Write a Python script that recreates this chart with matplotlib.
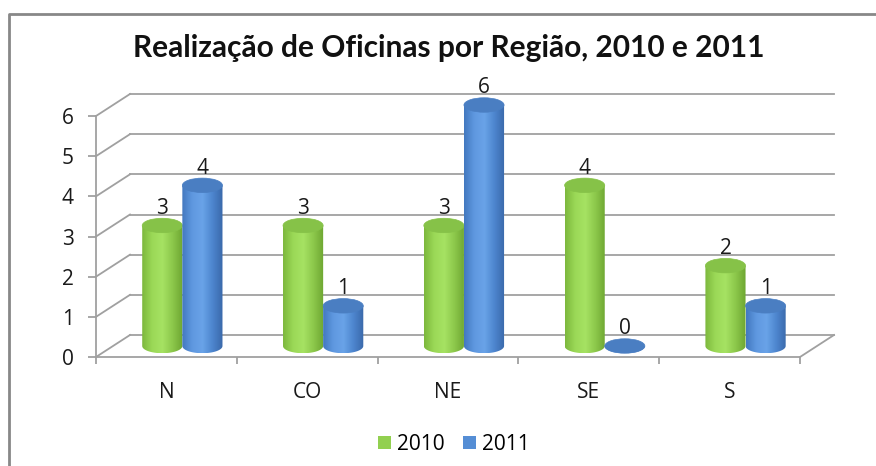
import numpy as np
import matplotlib.pyplot as plt
from matplotlib.patches import Polygon, Ellipse, Patch
from matplotlib.colors import LinearSegmentedColormap
from matplotlib.lines import Line2D

# data
regions = ["N", "CO", "NE", "SE", "S"]
years = ["2010", "2011"]
v2010 = [3, 3, 3, 4, 2]
v2011 = [4, 1, 6, 0, 1]
yticks = [0, 1, 2, 3, 4, 5, 6]

# styles
grid_c = "#A0A0A0"
green_side = ["#7DB83D", "#9BD957", "#A6E263", "#8CC84B", "#6EA632"]
blue_side = ["#4379C0", "#5F98E0", "#69A3E8", "#4D85CE", "#3A69AA"]
green_top = "#86C248"
blue_top = "#4A7EC2"
leg_green = "#92D050"
leg_blue = "#558ED5"
txt_c = "#1a1a1a"
fs = 15

plt.rcParams["font.family"] = ["Open Sans", "DejaVu Sans"]

# one value unit = 40.17 px, axes runs 0..7 so the tallest cylinder is not clipped
upx = 241 / 6
ymax = 7
fig = plt.figure(figsize=(8.76, 4.66), dpi=100)
ax = fig.add_axes([96 / 876, 1 - 357 / 466, 704 / 876, ymax * upx / 466])

ncat = len(regions)

# depth of the pseudo-3d box (data units)
dx = 34 / 140.8
dy = 22 / upx

# back wall and side wall
for v in yticks:
    ax.plot([-0.5 + dx, ncat - 0.5 + dx], [v + dy, v + dy], color=grid_c,
            lw=1.3, clip_on=False, zorder=1)
    ax.plot([-0.5, -0.5 + dx], [v, v + dy], color=grid_c, lw=1.3,
            clip_on=False, zorder=1)
# floor right edge
ax.plot([ncat - 0.5, ncat - 0.5 + dx], [0, dy], color=grid_c, lw=1.3,
        clip_on=False, zorder=1)

for s in ["top", "right"]:
    ax.spines[s].set_visible(False)
for s in ["left", "bottom"]:
    ax.spines[s].set_color(grid_c)
    ax.spines[s].set_linewidth(1.3)
ax.spines["left"].set_bounds(0, 6)
ax.patch.set_visible(False)

ax.set_yticks(yticks)
ax.tick_params(axis="y", length=6, width=1.3, color=grid_c, pad=10,
               labelsize=fs, labelcolor=txt_c)
ax.set_xticks(np.arange(ncat))
ax.set_xticklabels(regions)
ax.tick_params(axis="x", which="major", length=0, pad=18, labelsize=fs,
               labelcolor=txt_c)
ax.set_xticks(np.arange(ncat + 1) - 0.5, minor=True)
ax.tick_params(axis="x", which="minor", length=5, width=1.3, color=grid_c)


def cylinder(cx, y0, y1, w, eh, side, top, z):
    a = w / 2
    b = eh / 2
    t = np.linspace(np.pi, 2 * np.pi, 50)
    verts = list(zip(cx + a * np.cos(t), y0 + b * np.sin(t)))
    verts += [(cx + a, y1), (cx - a, y1)]
    body = Polygon(verts, closed=True, facecolor="none", edgecolor="none",
                   clip_on=False)
    ax.add_patch(body)
    cmap = LinearSegmentedColormap.from_list("c", side)
    grad = np.linspace(0, 1, 100)[None, :]
    im = ax.imshow(grad, cmap=cmap, extent=(cx - a, cx + a, y0 - b, y1),
                   aspect="auto", interpolation="bilinear", zorder=z)
    im.set_clip_path(body)
    ax.add_patch(Ellipse((cx, y1), w, eh, facecolor=top, edgecolor=top,
                         lw=0.5, zorder=z + 0.1, clip_on=False))


bw = 0.285
eh = 0.36
for i in range(ncat):
    base = dy / 2
    cx_g = i + dx / 2 - 0.15
    cx_b = i + dx / 2 + 0.135
    cylinder(cx_g, base, base + v2010[i], bw, eh, green_side, green_top, 3)
    cylinder(cx_b, base, base + v2011[i], bw, eh, blue_side, blue_top, 4)
    ax.text(cx_g, base + v2010[i] + 0.43, str(v2010[i]), ha="center",
            va="center", fontsize=fs, color=txt_c, zorder=6)
    ax.text(cx_b, base + v2011[i] + 0.43, str(v2011[i]), ha="center",
            va="center", fontsize=fs, color=txt_c, zorder=6)

ax.set_xlim(-0.5, ncat - 0.5)
ax.set_ylim(0, ymax)

fig.text(449 / 876, 1 - 48 / 466, "Realização de Oficinas por Região, 2010 e 2011",
         ha="center", va="center", fontsize=21.5, fontweight="bold",
         family=["Lato", "DejaVu Sans"], color="#111111")

handles = [Patch(facecolor=leg_green, edgecolor="none"),
           Patch(facecolor=leg_blue, edgecolor="none")]
fig.legend(handles, years, loc="center", bbox_to_anchor=(454 / 876, 1 - 444 / 466),
           ncol=2, frameon=False, fontsize=fs, handlelength=0.6,
           handleheight=0.6, handletextpad=0.3, columnspacing=0.9)

# outer chart border (extends past the image edge)
fig.add_artist(Line2D([8.5 / 876, 8.5 / 876, 1.0], [0.0, 1 - 14 / 466, 1 - 14 / 466],
                      transform=fig.transFigure, color="#888888", lw=2))

fig.savefig("out.png", dpi=100)
